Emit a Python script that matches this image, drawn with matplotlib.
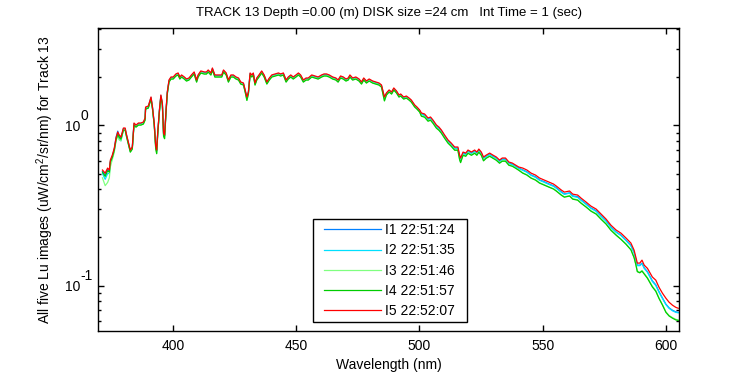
import numpy as np
import matplotlib
matplotlib.use('Agg')
import matplotlib.pyplot as plt
from matplotlib.patches import Rectangle
from matplotlib.ticker import LogLocator, NullFormatter, FuncFormatter

plt.rcParams['font.family'] = ['Liberation Sans', 'DejaVu Sans']
plt.rcParams['mathtext.fontset'] = 'custom'
plt.rcParams['mathtext.rm'] = 'Liberation Sans'
plt.rcParams['mathtext.it'] = 'Liberation Sans:italic'

# Wavelength grid (nm) shared by the five Lu images
wavelength = [
    371.4, 372.5, 373.5, 374.2, 374.6, 375.4, 376.2, 376.9, 377.6, 378.2,
    378.9, 379.9, 380.6, 381.2, 381.9, 382.7, 383.5, 384.2, 385.0, 386.0,
    387.0, 388.0, 388.7, 388.9, 390.0, 391.1, 391.7, 392.4, 393.0, 393.4,
    393.8, 394.5, 395.1, 395.7, 396.2, 396.6, 397.2, 397.7, 398.4, 399.2,
    400.1, 401.2, 402.1, 402.8, 403.5, 404.6, 405.5, 406.5, 407.5, 408.6,
    409.6, 410.2, 411.3, 412.7, 413.6, 414.3, 415.4, 416.0, 417.0, 418.1,
    419.8, 420.5, 421.6, 422.5, 423.5, 424.5, 425.6, 426.6, 427.5, 428.6,
    429.3, 430.0, 430.6, 431.3, 432.0, 432.6, 433.3, 434.0, 434.9, 436.0,
    437.0, 438.1, 439.1, 440.1, 441.4, 442.8, 443.7, 444.8, 445.9, 446.8,
    447.8, 448.8, 449.9, 450.9, 451.8, 452.9, 454.0, 454.9, 456.3, 457.6,
    458.9, 460.3, 461.3, 462.3, 463.4, 464.8, 466.1, 467.0, 468.0, 469.1,
    470.2, 471.1, 471.8, 472.9, 474.2, 475.5, 476.5, 477.4, 478.5, 479.6,
    481.0, 482.3, 483.6, 484.6, 485.3, 485.8, 486.6, 487.7, 488.7, 489.6,
    490.7, 491.7, 492.4, 493.6, 494.7, 495.8, 496.7, 498.1, 499.0, 500.1,
    500.8, 502.1, 503.5, 504.5, 505.5, 506.9, 507.9, 508.9, 510.2, 511.6,
    512.9, 514.3, 515.6, 516.3, 516.7, 517.7, 518.8, 519.7, 521.1, 522.4,
    523.3, 524.1, 525.1, 526.0, 527.1, 528.5, 529.8, 531.2, 532.5, 533.6,
    534.9, 536.3, 537.7, 539.0, 540.3, 541.9, 543.6, 545.3, 547.1, 548.7,
    550.7, 552.5, 554.4, 555.5, 557.6, 558.8, 560.9, 562.2, 564.2, 565.6,
    567.6, 569.6, 571.7, 573.7, 575.7, 577.7, 579.8, 581.8, 583.8, 585.8,
    587.1, 587.8, 588.4, 589.4, 590.3, 591.2, 592.5, 594.5, 595.9, 597.2,
    598.6, 600.0, 601.3, 602.7, 604.0, 605.0,
]

lu1 = [
    .515, .49, .53, .515, .595, .64, .71, .84, .92, .85,
    .83, .952, .952, .861, .778, .694, .725, 1.024, .994, 1.024,
    1.024, 1.039, 1.100, 1.288, 1.307, 1.488, 1.288, 1.024, .745, .694,
    .886, 1.234, 1.532, 1.365, .886, .861, 1.234, 1.599, 1.900, 1.984,
    1.984, 2.072, 2.102, 1.984, 2.042, 1.984, 1.928, 1.955, 2.042, 2.132,
    1.900, 2.042, 2.163, 2.132, 2.132, 2.194, 2.102, 2.257, 2.042, 2.042,
    2.042, 2.194, 2.102, 1.900, 2.042, 2.042, 1.984, 1.955, 1.846, 1.820,
    1.646, 1.488, 1.599, 2.102, 2.042, 2.102, 1.820, 1.955, 2.042, 2.163,
    2.042, 1.846, 1.955, 2.042, 2.072, 2.102, 2.072, 2.102, 1.900, 1.984,
    2.042, 1.984, 2.042, 2.102, 2.042, 1.900, 1.955, 1.955, 2.042, 2.013,
    1.984, 2.042, 2.072, 2.072, 2.042, 1.984, 1.955, 1.900, 2.013, 1.984,
    1.928, 1.955, 2.042, 1.955, 1.984, 1.928, 1.846, 1.955, 1.873, 1.928,
    1.873, 1.846, 1.820, 1.768, 1.599, 1.488, 1.576, 1.646, 1.599, 1.694,
    1.623, 1.532, 1.553, 1.488, 1.509, 1.466, 1.425, 1.326, 1.288, 1.234,
    1.176, 1.159, 1.094, 1.110, 1.063, .989, .961, .921, .857, .798,
    .763, .721, .721, .642, .616, .671, .661, .690, .671, .690,
    .671, .700, .671, .624, .642, .661, .642, .624, .598, .616,
    .616, .581, .572, .557, .541, .527, .513, .490, .477, .457,
    .444, .431, .419, .408, .384, .373, .379, .363, .358, .342,
    .324, .305, .293, .272, .254, .232, .216, .206, .192, .178,
    .161, .146, .134, .134, .138, .129, .122, .107, .101, .0915,
    .0835, .0765, .0725, .0700, .0685, .0680,
]

lu2 = [
    .50, .46, .50, .50, .58, .63, .70, .82, .88, .82,
    .80, .948, .948, .857, .774, .690, .721, 1.018, .989, 1.018,
    1.018, 1.033, 1.094, 1.281, 1.300, 1.480, 1.281, 1.018, .742, .690,
    .882, 1.227, 1.524, 1.358, .882, .857, 1.227, 1.591, 1.890, 1.974,
    1.974, 2.062, 2.091, 1.974, 2.032, 1.974, 1.918, 1.945, 2.032, 2.122,
    1.890, 2.032, 2.152, 2.122, 2.122, 2.183, 2.091, 2.246, 2.032, 2.032,
    2.032, 2.183, 2.091, 1.890, 2.032, 2.032, 1.974, 1.945, 1.837, 1.810,
    1.638, 1.480, 1.591, 2.091, 2.032, 2.091, 1.810, 1.945, 2.032, 2.152,
    2.032, 1.837, 1.945, 2.032, 2.062, 2.091, 2.062, 2.091, 1.890, 1.974,
    2.032, 1.974, 2.032, 2.091, 2.032, 1.890, 1.945, 1.945, 2.032, 2.003,
    1.974, 2.032, 2.062, 2.062, 2.032, 1.974, 1.945, 1.890, 2.003, 1.974,
    1.918, 1.945, 2.032, 1.945, 1.974, 1.918, 1.837, 1.945, 1.864, 1.918,
    1.864, 1.837, 1.810, 1.759, 1.591, 1.480, 1.568, 1.638, 1.591, 1.685,
    1.614, 1.524, 1.545, 1.480, 1.501, 1.459, 1.417, 1.319, 1.281, 1.227,
    1.168, 1.151, 1.087, 1.102, 1.055, .982, .955, .914, .851, .792,
    .758, .716, .716, .638, .611, .666, .656, .686, .666, .686,
    .666, .695, .666, .620, .638, .656, .638, .620, .594, .611,
    .611, .577, .568, .553, .537, .524, .509, .487, .473, .454,
    .440, .428, .416, .405, .381, .371, .377, .360, .355, .340,
    .321, .303, .290, .270, .252, .230, .215, .205, .191, .177,
    .160, .145, .133, .133, .137, .128, .121, .106, .100, .0908,
    .0830, .0760, .0720, .0695, .0680, .0675,
]

lu3 = [
    .47, .42, .44, .47, .55, .61, .68, .80, .86, .81,
    .80, .938, .938, .848, .766, .683, .714, 1.008, .979, 1.008,
    1.008, 1.023, 1.083, 1.268, 1.287, 1.465, 1.268, 1.008, .72, .67,
    .873, 1.215, 1.508, 1.345, .86, .83, 1.215, 1.575, 1.871, 1.954,
    1.954, 2.041, 2.070, 1.954, 2.011, 1.954, 1.898, 1.926, 2.011, 2.100,
    1.871, 2.011, 2.130, 2.100, 2.100, 2.161, 2.070, 2.223, 2.011, 2.011,
    2.011, 2.161, 2.070, 1.871, 2.011, 2.011, 1.954, 1.926, 1.818, 1.792,
    1.621, 1.44, 1.575, 2.070, 2.011, 2.070, 1.792, 1.926, 2.011, 2.130,
    2.011, 1.818, 1.926, 2.011, 2.041, 2.070, 2.041, 2.070, 1.871, 1.954,
    2.011, 1.954, 2.011, 2.070, 2.011, 1.871, 1.926, 1.926, 2.011, 1.982,
    1.954, 2.011, 2.041, 2.041, 2.011, 1.954, 1.926, 1.871, 1.982, 1.954,
    1.898, 1.926, 2.011, 1.926, 1.954, 1.898, 1.818, 1.926, 1.845, 1.898,
    1.845, 1.818, 1.792, 1.741, 1.55, 1.43, 1.552, 1.621, 1.575, 1.668,
    1.598, 1.508, 1.530, 1.465, 1.486, 1.444, 1.403, 1.306, 1.268, 1.215,
    1.146, 1.130, 1.067, 1.082, 1.036, .964, .937, .898, .835, .778,
    .744, .703, .703, .615, .59, .654, .644, .673, .654, .673,
    .654, .683, .654, .605, .626, .644, .626, .609, .583, .600,
    .600, .566, .558, .542, .527, .506, .492, .470, .457, .439,
    .425, .413, .402, .391, .368, .358, .364, .348, .343, .328,
    .310, .293, .281, .261, .243, .223, .208, .195, .182, .168,
    .150, .136, .123, .121, .124, .119, .112, .099, .093, .0835,
    .0760, .0685, .0650, .0630, .0615, .0610,
]

lu4 = [
    .51, .48, .52, .51, .59, .63, .70, .81, .88, .84,
    .82, .933, .933, .844, .762, .680, .710, 1.003, .974, 1.003,
    1.003, 1.018, 1.078, 1.262, 1.280, 1.458, 1.262, 1.003, .715, .665,
    .868, 1.209, 1.501, 1.338, .855, .825, 1.209, 1.567, 1.861, 1.944,
    1.944, 2.030, 2.059, 1.944, 2.001, 1.944, 1.889, 1.916, 2.001, 2.089,
    1.861, 2.001, 2.119, 2.089, 2.089, 2.150, 2.059, 2.212, 2.001, 2.001,
    2.001, 2.150, 2.059, 1.861, 2.001, 2.001, 1.944, 1.916, 1.809, 1.783,
    1.613, 1.43, 1.567, 2.059, 2.001, 2.059, 1.783, 1.916, 2.001, 2.119,
    2.001, 1.809, 1.916, 2.001, 2.030, 2.059, 2.030, 2.059, 1.861, 1.944,
    2.001, 1.944, 2.001, 2.059, 2.001, 1.861, 1.916, 1.916, 2.001, 1.972,
    1.944, 2.001, 2.030, 2.030, 2.001, 1.944, 1.916, 1.861, 1.972, 1.944,
    1.889, 1.916, 2.001, 1.916, 1.944, 1.889, 1.809, 1.916, 1.835, 1.889,
    1.835, 1.809, 1.783, 1.732, 1.54, 1.42, 1.544, 1.613, 1.567, 1.660,
    1.590, 1.501, 1.522, 1.458, 1.478, 1.437, 1.396, 1.299, 1.262, 1.209,
    1.140, 1.124, 1.061, 1.076, 1.030, .959, .932, .893, .831, .774,
    .740, .699, .699, .610, .585, .650, .641, .669, .650, .669,
    .650, .679, .650, .600, .623, .641, .623, .605, .580, .597,
    .597, .563, .555, .540, .524, .503, .489, .468, .455, .436,
    .423, .411, .400, .389, .366, .356, .362, .346, .341, .326,
    .309, .291, .279, .259, .242, .221, .206, .194, .181, .167,
    .149, .135, .122, .120, .123, .118, .111, .098, .092, .083,
    .0755, .0680, .0645, .0625, .0610, .0605,
]

lu5 = [
    .526, .503, .541, .526, .607, .652, .721, .833, .908, .870,
    .845, .962, .962, .870, .786, .701, .732, 1.034, 1.004, 1.034,
    1.034, 1.049, 1.111, 1.301, 1.320, 1.503, 1.301, 1.034, .753, .701,
    .895, 1.246, 1.547, 1.379, .895, .870, 1.246, 1.615, 1.919, 2.004,
    2.004, 2.093, 2.123, 2.004, 2.063, 2.004, 1.947, 1.975, 2.063, 2.154,
    1.919, 2.063, 2.185, 2.154, 2.154, 2.216, 2.123, 2.280, 2.063, 2.063,
    2.063, 2.216, 2.123, 1.919, 2.063, 2.063, 2.004, 1.975, 1.865, 1.838,
    1.663, 1.503, 1.615, 2.123, 2.063, 2.123, 1.838, 1.975, 2.063, 2.185,
    2.063, 1.865, 1.975, 2.063, 2.093, 2.123, 2.093, 2.123, 1.919, 2.004,
    2.063, 2.004, 2.063, 2.123, 2.063, 1.919, 1.975, 1.975, 2.063, 2.033,
    2.004, 2.063, 2.093, 2.093, 2.063, 2.004, 1.975, 1.919, 2.033, 2.004,
    1.947, 1.975, 2.063, 1.975, 2.004, 1.947, 1.865, 1.975, 1.892, 1.947,
    1.892, 1.865, 1.838, 1.786, 1.615, 1.503, 1.592, 1.663, 1.615, 1.711,
    1.639, 1.547, 1.569, 1.503, 1.524, 1.481, 1.439, 1.339, 1.301, 1.246,
    1.194, 1.177, 1.111, 1.127, 1.079, 1.004, .976, .935, .870, .810,
    .775, .732, .732, .652, .625, .681, .671, .701, .681, .701,
    .681, .711, .681, .634, .652, .671, .652, .634, .607, .625,
    .625, .590, .581, .565, .549, .541, .526, .503, .489, .469,
    .455, .442, .430, .418, .394, .383, .389, .372, .367, .351,
    .332, .313, .300, .279, .260, .238, .222, .212, .198, .184,
    .166, .150, .138, .138, .144, .134, .128, .113, .108, .0975,
    .0895, .0833, .0786, .0753, .0731, .0721,
]

labels = ['I1 22:51:24', 'I2 22:51:35', 'I3 22:51:46', 'I4 22:51:57', 'I5 22:52:07']
colors = ['#0080ff', '#00e0ff', '#80ff80', '#00cc00', '#ff0000']

fig = plt.figure(figsize=(7.5, 3.75), dpi=100)
ax = fig.add_axes([0.1307, 0.1173, 0.7746, 0.808])

for lu, lab, col in zip([lu1, lu2, lu3, lu4, lu5], labels, colors):
    ax.plot(wavelength, lu, color=col, lw=0.9, label=lab)

ax.set_yscale('log')
ax.set_xlim(369.6, 605.3)
ax.set_ylim(0.052, 4.05)
ax.set_xticks([400, 450, 500, 550, 600])
ax.yaxis.set_major_locator(LogLocator(base=10))
ax.yaxis.set_minor_locator(LogLocator(base=10, subs=np.arange(2, 10)))
ax.yaxis.set_minor_formatter(NullFormatter())
# "10" as tick label, exponent drawn beside it at full size
ax.yaxis.set_major_formatter(FuncFormatter(lambda v, p: '10'))

ax.tick_params(which='both', direction='in', top=True, right=True, labelsize=10)
ax.tick_params(which='major', length=4, width=1)
ax.tick_params(which='minor', length=2, width=1)
ax.tick_params(axis='x', pad=6)
ax.tick_params(axis='y', pad=13)
for s in ax.spines.values():
    s.set_linewidth(1)

for e in [-1, 0]:
    ax.annotate(str(e), xy=(0, 10.0 ** e), xycoords=('axes fraction', 'data'),
                xytext=(-12.5, 7), textcoords='offset points',
                ha='left', va='center', fontsize=10)

ax.set_title('TRACK 13 Depth =0.00 (m) DISK size =24 cm   Int Time = 1 (sec)',
             fontsize=9.5, pad=9)
ax.set_xlabel('Wavelength (nm)', fontsize=10, labelpad=3)
ax.set_ylabel('All five Lu images (uW/cm$^2$/sr/nm) for Track 13', fontsize=10, labelpad=6)

# legend box (axes fraction) with the entries centred inside
box = (0.3695, 0.0287, 0.265, 0.341)
ax.add_patch(Rectangle(box[:2], box[2], box[3], transform=ax.transAxes,
                       facecolor='white', edgecolor='black', lw=1, zorder=4))
leg = ax.legend(loc='center', bbox_to_anchor=box, borderaxespad=0, frameon=False,
                fontsize=10, handlelength=4.1, handletextpad=0.3, labelspacing=0.45,
                borderpad=0.3)
leg.set_zorder(5)

fig.savefig('out.png', dpi=100)
